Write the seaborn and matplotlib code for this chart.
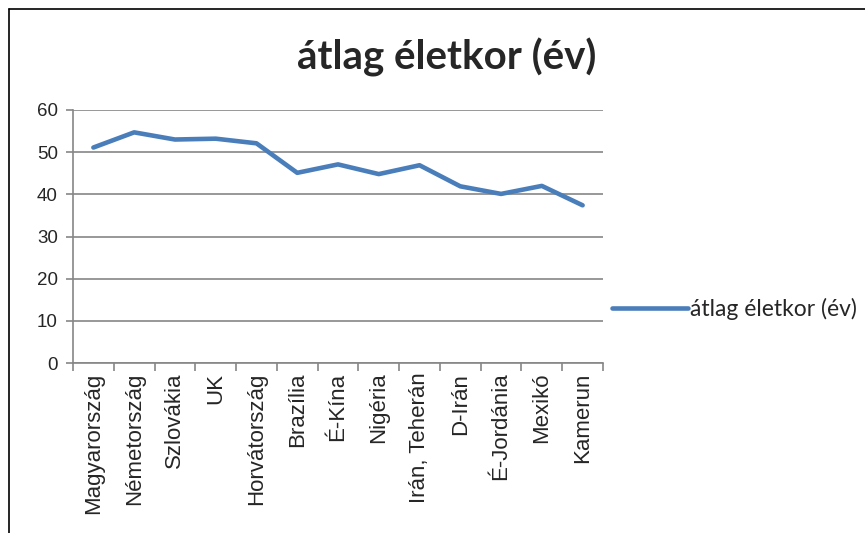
"""Average age per country line chart."""

import matplotlib.pyplot as plt
from matplotlib.lines import Line2D
import pandas as pd
import seaborn as sns

CATEGORIES = [
	"Magyarország", "Németország", "Szlovákia", "UK", "Horvátország", "Brazília",
	"É-Kína", "Nigéria", "Irán, Teherán", "D-Irán", "É-Jordánia", "Mexikó", "Kamerun",
]
AGES = [51.1, 54.7, 53.0, 53.2, 52.1, 45.1, 47.1, 44.8, 46.9, 41.9, 40.1, 42.0, 37.4]
Y_TICKS = [0, 10, 20, 30, 40, 50, 60]
SERIES = "átlag életkor (év)"

sns.set_theme(style="white")
plt.rcParams["font.family"] = ["Lato", "DejaVu Sans"]

df = pd.DataFrame({"Ország": CATEGORIES, SERIES: AGES})

fig = plt.figure(figsize=(8.65, 5.33), dpi=100)
ax = fig.add_axes([73 / 865, 170 / 533, 530 / 865, 253 / 533])

sns.lineplot(data=df, x="Ország", y=SERIES, ax=ax, sort=False, color="#4A7EBB",
	linewidth=3.3, label=SERIES, solid_capstyle="round")

ax.set_ylim(0, 60)
ax.set_yticks(Y_TICKS)
ax.set_yticklabels([str(v) for v in Y_TICKS], fontsize=13.5, family="Liberation Sans")
ax.set_xlim(-0.5, len(CATEGORIES) - 0.5)
ax.set_xticks(range(len(CATEGORIES)))
ax.set_xticklabels(CATEGORIES, rotation=90, fontsize=16, family="Liberation Sans")
ax.set_xticks([i - 0.5 for i in range(len(CATEGORIES) + 1)], minor=True)
ax.tick_params(axis="x", which="major", length=0, pad=7)
ax.tick_params(axis="x", which="minor", length=6, color="#868686", width=1.2, direction="out", bottom=True)
ax.tick_params(axis="y", length=5, color="#868686", width=1.2, direction="out", left=True, pad=6)
ax.set_xlabel("")
ax.set_ylabel("")
ax.grid(axis="y", color="#868686", linewidth=1.2)
ax.set_axisbelow(True)
for side in ["top", "right"]:
	ax.spines[side].set_visible(False)
for side in ["left", "bottom"]:
	ax.spines[side].set_color("#868686")
	ax.spines[side].set_linewidth(1.2)

fig.text(447 / 865, 1 - 57 / 533, SERIES, ha="center", va="center", fontsize=29, fontweight="bold")

ax.legend(loc="center left", bbox_to_anchor=(612 / 865, 1 - 309 / 533), bbox_transform=fig.transFigure,
	frameon=False, fontsize=16.5, handlelength=3.3, handletextpad=0.1, borderaxespad=0, borderpad=0)

# outer frame of the chart area (top and left edges only)
fig.lines.append(Line2D([9 / 865, 1], [1 - 9 / 533, 1 - 9 / 533], transform=fig.transFigure, color="black", linewidth=1.2))
fig.lines.append(Line2D([9 / 865, 9 / 865], [0, 1 - 9 / 533], transform=fig.transFigure, color="black", linewidth=1.2))

fig.savefig("out.png", dpi=100)
plt.close(fig)
